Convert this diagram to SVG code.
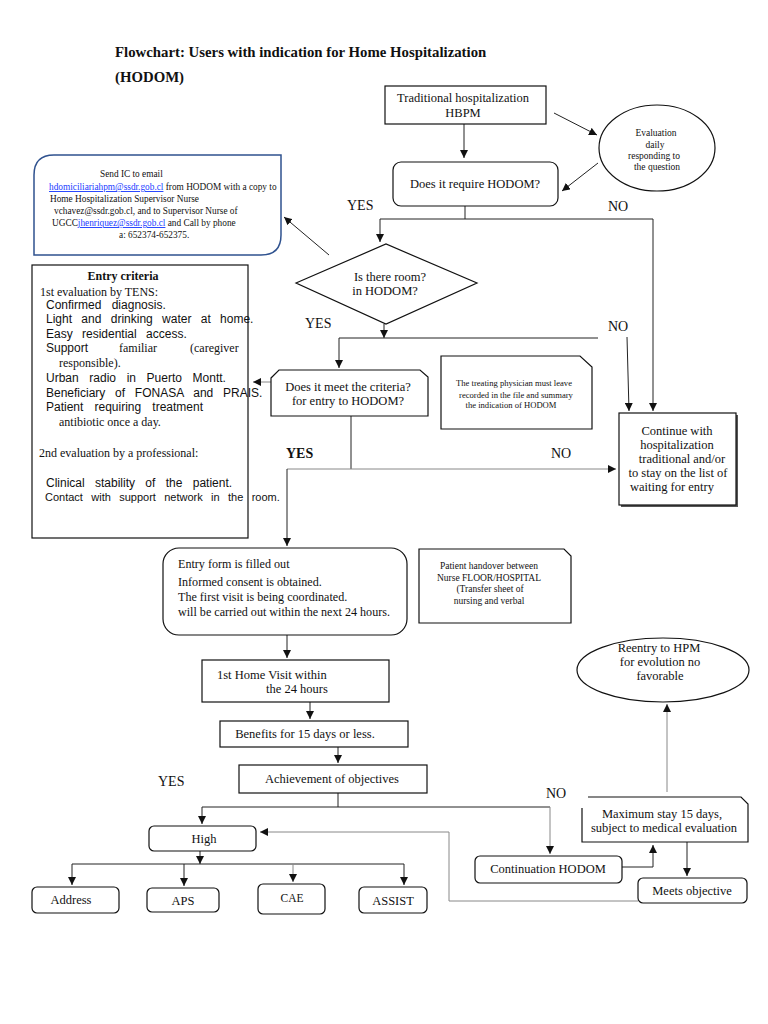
<svg xmlns="http://www.w3.org/2000/svg" width="768" height="1024" viewBox="0 0 768 1024">
<style>
.s{font-family:"Liberation Serif","Times New Roman",serif;fill:#111}
.a{font-family:"Liberation Sans",Arial,sans-serif;fill:#111}
.b{fill:#fff;stroke:#111;stroke-width:1.2}
.c{fill:none;stroke:#222;stroke-width:1}
.g{fill:none;stroke:#888;stroke-width:1}
.lnk{fill:#1a3cff;text-decoration:underline}
</style>
<defs>
<marker id="arr" markerWidth="8" markerHeight="8" refX="8" refY="4" orient="auto" markerUnits="userSpaceOnUse">
<path d="M0,0 L8,4 L0,8 z" fill="#111"/>
</marker>
</defs>
<rect width="768" height="1024" fill="#fff"/>
<g id="title">
<text class="s" x="115" y="57" font-size="14.8" font-weight="bold">Flowchart: Users with indication for Home Hospitalization</text>
<text class="s" x="115" y="82" font-size="14.8" font-weight="bold">(HODOM)</text>
</g>
<g id="connectors">
<path class="c" d="M464,124 V158" marker-end="url(#arr)"/>
<path class="c" d="M554,113 L597,135" marker-end="url(#arr)"/>
<path class="c" d="M598,163 L562,191" marker-end="url(#arr)"/>
<path class="c" d="M465,206 V219 M380,219 H653"/>
<path class="c" d="M380,219 V242" marker-end="url(#arr)"/>
<path class="c" d="M653,219 V411" marker-end="url(#arr)"/>
<path class="c" d="M329,255 L284,217" marker-end="url(#arr)"/>
<path class="c" d="M384,324 V338" marker-end="url(#arr)"/>
<path class="c" d="M339,338 H598"/>
<path class="c" d="M339,338 V368" marker-end="url(#arr)"/>
<path class="c" d="M627,337 L629,411" marker-end="url(#arr)"/>
<path class="g" d="M271,382 H253" marker-end="url(#arr)"/>
<path class="c" d="M351,416 V469"/>
<path class="g" d="M287,469 H616" marker-end="url(#arr)"/>
<path class="c" d="M287,469 V546" marker-end="url(#arr)"/>
<path class="c" d="M287,635 V658" marker-end="url(#arr)"/>
<path class="c" d="M310,702 V719" marker-end="url(#arr)"/>
<path class="c" d="M338,747 V763" marker-end="url(#arr)"/>
<path class="c" d="M338,793 V807 M202,807 H550"/>
<path class="c" d="M202,807 V824" marker-end="url(#arr)"/>
<path class="g" d="M550,807 V854" marker-end="url(#arr)"/>
<path class="c" d="M200,851 V864" marker-end="url(#arr)"/>
<path class="c" d="M72,864 H404"/>
<path class="c" d="M72,864 V885" marker-end="url(#arr)"/>
<path class="c" d="M184,864 V886" marker-end="url(#arr)"/>
<path class="g" d="M293,864 V882" marker-end="url(#arr)"/>
<path class="c" d="M404,864 V885" marker-end="url(#arr)"/>
<path class="c" d="M622,867 H653 V845" marker-end="url(#arr)"/>
<path class="c" d="M687,842 V876" marker-end="url(#arr)"/>
<path class="g" d="M638,901 H449 V832 H260" marker-end="url(#arr)"/>
<path class="g" d="M667,792 V704" marker-end="url(#arr)"/>
</g>
<g id="labels">
<text class="s" x="347" y="210" font-size="14">YES</text>
<text class="s" x="608" y="211" font-size="14">NO</text>
<text class="s" x="305" y="328" font-size="14">YES</text>
<text class="s" x="608" y="331" font-size="14">NO</text>
<text class="s" x="286" y="458" font-size="14" font-weight="bold">YES</text>
<text class="s" x="551" y="458" font-size="14">NO</text>
<text class="s" x="158" y="786" font-size="14">YES</text>
<text class="s" x="546" y="798" font-size="14">NO</text>
</g>
<g id="n-traditional">
<rect class="b" x="385" y="86" width="161" height="38"/>
<text class="s" x="463" y="102" font-size="12.5" text-anchor="middle">Traditional hospitalization</text>
<text class="s" x="463" y="117" font-size="12.5" text-anchor="middle">HBPM</text>
</g>
<g id="n-evaluation">
<ellipse class="b" cx="657" cy="148" rx="58" ry="43"/>
<text class="s" font-size="9.5" text-anchor="middle"><tspan x="656" y="136">Evaluation</tspan><tspan x="655" y="148">daily</tspan><tspan x="654" y="159">responding to</tspan><tspan x="657" y="170">the question</tspan></text>
</g>
<g id="n-require">
<rect class="b" x="393" y="162" width="165" height="44" rx="8"/>
<text class="s" x="475" y="188" font-size="12.5" text-anchor="middle">Does it require HODOM?</text>
</g>
<g id="n-email">
<path d="M54,155 H281 V235 Q281,255 261,255 H34 V175 Q34,155 54,155 Z" fill="#fff" stroke="#2F528F" stroke-width="1.5"/>
<text class="s" font-size="9.3">
<tspan x="100" y="177">Send IC to email</tspan>
<tspan x="49" y="190"><tspan class="lnk">hdomiciliariahpm@ssdr.gob.cl</tspan> from HODOM with a copy to</tspan>
<tspan x="50" y="202">Home Hospitalization Supervisor Nurse</tspan>
<tspan x="54" y="214">vchavez@ssdr.gob.cl, and to Supervisor Nurse of</tspan>
<tspan x="52" y="226">UGCC<tspan class="lnk">jhenriquez@ssdr.gob.cl</tspan> and Call by phone</tspan>
<tspan x="119" y="238">a: 652374-652375.</tspan>
</text>
</g>
<g id="n-room">
<polygon class="b" points="296,283 386,244 477,283 386,324"/>
<text class="s" x="390" y="281" font-size="12.5" text-anchor="middle">Is there room?</text>
<text class="s" x="385" y="295" font-size="12.5" text-anchor="middle">in HODOM?</text>
</g>
<g id="n-criteria">
<rect class="b" x="32" y="265" width="216" height="273"/>
<text class="s" x="123" y="280" font-size="12" font-weight="bold" text-anchor="middle">Entry criteria</text>
<text class="s" x="40" y="296" font-size="12">1st evaluation by TENS:</text>
<text class="a" x="46" y="309" font-size="12" word-spacing="7">Confirmed diagnosis.</text>
<text class="a" x="46" y="323" font-size="12" word-spacing="6">Light and drinking water at home.</text>
<text class="a" x="46" y="338" font-size="12" word-spacing="6">Easy residential access.</text>
<text x="46" y="352" font-size="12"><tspan class="a">Support</tspan><tspan class="s" x="119">familiar</tspan><tspan class="s" x="190">(caregiver</tspan></text>
<text class="s" x="59" y="367" font-size="12">responsible).</text>
<text class="a" x="46" y="382" font-size="12" word-spacing="7.3">Urban radio in Puerto Montt.</text>
<text class="a" x="46" y="397" font-size="12" word-spacing="6.4">Beneficiary of FONASA and PRAIS.</text>
<text class="a" x="46" y="411" font-size="12" word-spacing="7.8">Patient requiring treatment</text>
<text class="s" x="59" y="426" font-size="12">antibiotic once a day.</text>
<text class="s" x="39" y="457" font-size="12">2nd evaluation by a professional:</text>
<text class="a" x="46" y="487" font-size="12" word-spacing="7">Clinical stability of the patient.</text>
<text class="a" x="45" y="501" font-size="11" word-spacing="5.3">Contact with support network in the room.</text>
</g>
<g id="n-meet">
<polygon class="b" points="271,378 279,370 420,370 428,377 428,416 271,416"/>
<text class="s" x="348" y="391" font-size="12.5" text-anchor="middle">Does it meet the criteria?</text>
<text class="s" x="348" y="405" font-size="12.5" text-anchor="middle">for entry to HODOM?</text>
</g>
<g id="n-physician">
<polygon class="b" points="441,356 580,356 592,367 592,429 441,429"/>
<text class="s" font-size="8.6" text-anchor="middle"><tspan x="514" y="386">The treating physician must leave</tspan><tspan x="516" y="398">recorded in the file and summary</tspan><tspan x="511" y="408">the indication of HODOM</tspan></text>
</g>
<g id="n-continue">
<rect x="621" y="415" width="117" height="92" fill="#555"/>
<rect class="b" x="619" y="413" width="117" height="92" stroke-width="1.5"/>
<text class="s" font-size="12.5" text-anchor="middle"><tspan x="677" y="435">Continue with</tspan><tspan x="677" y="449">hospitalization</tspan><tspan x="682" y="463">traditional and/or</tspan><tspan x="678" y="477">to stay on the list of</tspan><tspan x="672" y="491">waiting for entry</tspan></text>
</g>
<g id="n-entryform">
<rect class="b" x="163" y="548" width="244" height="87" rx="16"/>
<text class="s" font-size="12.1"><tspan x="178" y="568">Entry form is filled out</tspan><tspan x="178" y="586">Informed consent is obtained.</tspan><tspan x="178" y="601">The first visit is being coordinated.</tspan><tspan x="178" y="616">will be carried out within the next 24 hours.</tspan></text>
</g>
<g id="n-handover">
<polygon class="b" points="419,549 564,549 571,556 571,623 419,623"/>
<text class="s" font-size="9.5" text-anchor="middle"><tspan x="489" y="569">Patient handover between</tspan><tspan x="489" y="581">Nurse FLOOR/HOSPITAL</tspan><tspan x="490" y="592">(Transfer sheet of</tspan><tspan x="489" y="604">nursing and verbal</tspan></text>
</g>
<g id="n-visit">
<rect class="b" x="202" y="660" width="187" height="42"/>
<text class="s" font-size="12.5"><tspan x="217" y="679">1st Home Visit within</tspan><tspan x="266" y="693">the 24 hours</tspan></text>
</g>
<g id="n-benefits">
<rect class="b" x="220" y="721" width="188" height="26"/>
<text class="s" x="305" y="738" font-size="12.5" text-anchor="middle">Benefits for 15 days or less.</text>
</g>
<g id="n-achievement">
<rect class="b" x="239" y="765" width="188" height="28"/>
<text class="s" x="332" y="783" font-size="12.5" text-anchor="middle">Achievement of objectives</text>
</g>
<g id="n-high">
<rect class="b" x="149" y="826" width="107" height="25" rx="5"/>
<text class="s" x="204" y="843" font-size="12.5" text-anchor="middle">High</text>
</g>
<g id="n-address">
<rect class="b" x="32" y="887" width="87" height="26" rx="5"/>
<text class="s" x="71" y="904" font-size="12.5" text-anchor="middle">Address</text>
</g>
<g id="n-aps">
<rect class="b" x="147" y="888" width="72" height="24" rx="5"/>
<text class="s" x="183" y="905" font-size="12.5" text-anchor="middle">APS</text>
</g>
<g id="n-cae">
<rect class="b" x="258" y="884" width="67" height="30" rx="5"/>
<text class="s" x="292" y="902" font-size="11.5" text-anchor="middle">CAE</text>
</g>
<g id="n-assist">
<rect class="b" x="359" y="887" width="68" height="26" rx="5"/>
<text class="s" x="393" y="905" font-size="12.5" text-anchor="middle">ASSIST</text>
</g>
<g id="n-continuation">
<rect class="b" x="475" y="856" width="147" height="27" rx="5"/>
<text class="s" x="548" y="873" font-size="12.5" text-anchor="middle">Continuation HODOM</text>
</g>
<g id="n-maxstay">
<path class="b" d="M582,808 V842 H748 V804 L741,797 H588"/>
<text class="s" font-size="12.5" text-anchor="middle"><tspan x="662" y="818">Maximum stay 15 days,</tspan><tspan x="664" y="832">subject to medical evaluation</tspan></text>
</g>
<g id="n-meets">
<rect class="b" x="638" y="878" width="109" height="25" rx="5"/>
<text class="s" x="692" y="895" font-size="12.5" text-anchor="middle">Meets objective</text>
</g>
<g id="n-reentry">
<ellipse class="b" cx="663" cy="670" rx="86" ry="32"/>
<text class="s" font-size="12.5" text-anchor="middle"><tspan x="659" y="652">Reentry to HPM</tspan><tspan x="660" y="666">for evolution no</tspan><tspan x="660" y="680">favorable</tspan></text>
</g>
</svg>
